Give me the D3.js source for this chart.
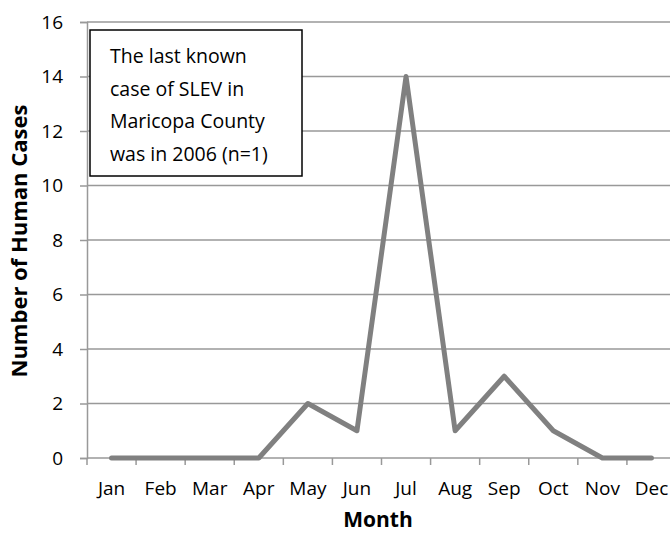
<!DOCTYPE html>
<html><head><meta charset="utf-8">
<script src="https://cdn.jsdelivr.net/npm/d3@7"></script>
<style>body{margin:0;background:#fff;} text{font-family:"Open Sans","Noto Sans",sans-serif;fill:#000;}</style>
</head><body>
<svg id="c" width="670" height="538"></svg>
<script>
const months = ["Jan","Feb","Mar","Apr","May","Jun","Jul","Aug","Sep","Oct","Nov","Dec"];
const cases = [0,0,0,0,2,1,14,1,3,1,0,0];
const yTicks = [0,2,4,6,8,10,12,14,16];
const noteLines = ["The last known","case of SLEV in","Maricopa County","was in 2006 (n=1)"];

const svg = d3.select("#c");
const L = 87, R = 676, T = 22, B = 458;
const x = d3.scaleBand().domain(months).range([L, R]);
const y = d3.scaleLinear().domain([0,16]).range([B, T]);

svg.append("g").selectAll("line").data(yTicks.filter(d=>d>0)).join("line")
  .attr("x1", L).attr("x2", 670).attr("y1", d=>y(d)).attr("y2", d=>y(d))
  .attr("stroke", "#999").attr("stroke-width", 1.5);

const ya = svg.append("g").attr("transform", `translate(${L},0)`)
  .call(d3.axisLeft(y).tickValues(yTicks).tickSize(7).tickPadding(17));
ya.attr("font-family", null).attr("font-size", null);
ya.select(".domain").attr("stroke","#999").attr("stroke-width",1.5);
ya.selectAll(".tick line").attr("stroke","#999").attr("stroke-width",1.5);
ya.selectAll("text").style("font-size","19px").attr("fill","#000");

const xa = svg.append("g").attr("transform", `translate(0,${B})`)
  .call(d3.axisBottom(x).tickSize(0).tickPadding(24));
xa.attr("font-family", null).attr("font-size", null);
xa.select(".domain").remove();
xa.selectAll("text").style("font-size","19px").attr("fill","#000");
svg.append("line").attr("x1",L).attr("x2",670).attr("y1",B).attr("y2",B)
  .attr("stroke","#999").attr("stroke-width",1.5);
svg.append("g").selectAll("line").data(months).join("line")
  .attr("x1", d=>x(d)).attr("x2", d=>x(d)).attr("y1", B).attr("y2", B+7)
  .attr("stroke","#999").attr("stroke-width",1.5);

const line = d3.line().x((d,i)=>x(months[i])+x.bandwidth()/2).y(d=>y(d));
svg.append("path").datum(cases).attr("d", line)
  .attr("fill","none").attr("stroke","#808080").attr("stroke-width",5)
  .attr("stroke-linejoin","round").attr("stroke-linecap","round");

svg.append("rect").attr("x",90).attr("y",30).attr("width",212).attr("height",146)
  .attr("fill","#fff").attr("stroke","#000").attr("stroke-width",1.5);
svg.append("g").selectAll("text").data(noteLines).join("text")
  .attr("x",110).attr("y",(d,i)=>63+i*32.7).style("font-size","19.5px").text(d=>d);

svg.append("text").attr("transform","translate(27,241) rotate(-90)")
  .attr("text-anchor","middle").style("font-size","22px").style("font-weight","bold")
  .text("Number of Human Cases");
svg.append("text").attr("x",378).attr("y",527).attr("text-anchor","middle")
  .style("font-size","21px").style("font-weight","bold").text("Month");
</script>
</body></html>
